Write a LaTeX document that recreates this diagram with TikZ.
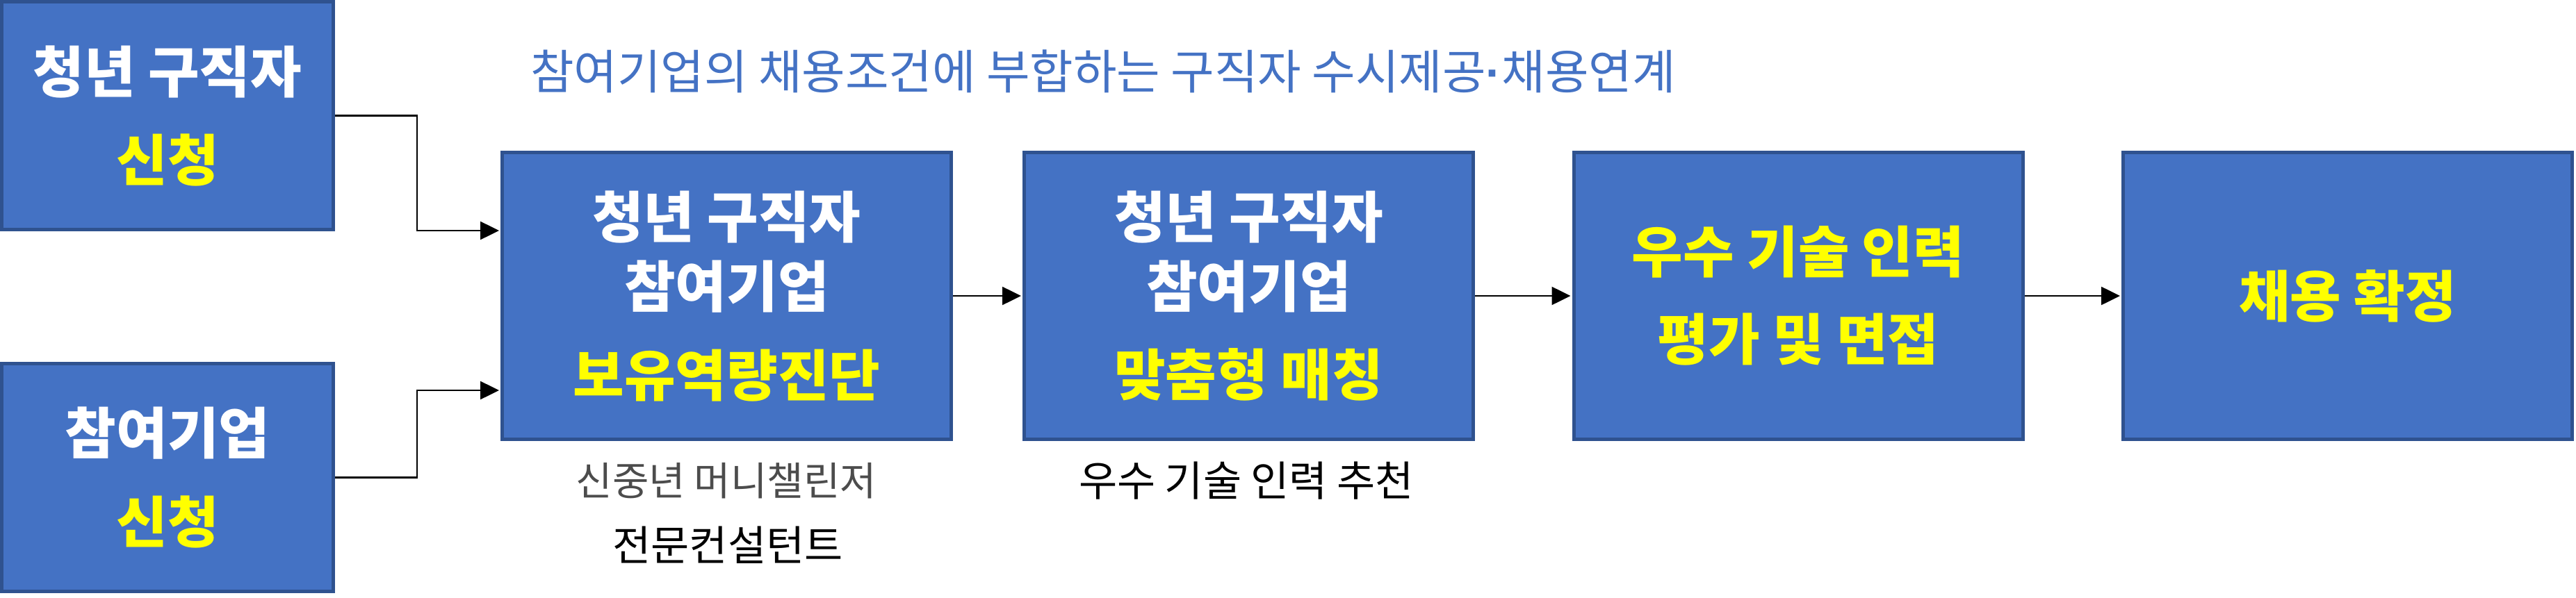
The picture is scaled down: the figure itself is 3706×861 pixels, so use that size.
\documentclass[tikz,border=0pt]{standalone}
\usepackage{fontspec}
\setmainfont{Noto Sans CJK KR}
\newfontfamily\dotfont{Liberation Sans}
\usetikzlibrary{arrows.meta,calc}
\definecolor{boxfill}{HTML}{4472C4}
\definecolor{boxline}{HTML}{2F528F}
\definecolor{ttl}{HTML}{4472C4}
\definecolor{hl}{HTML}{FFFF00}
\begin{document}
\begin{tikzpicture}[x=1pt,y=-1pt,
  flowbox/.style={draw=boxline, fill=boxfill, line width=5pt, inner sep=0pt, align=center, text=white, font=\bfseries\fontsize{80}{100}\selectfont},
  bigbox/.style={flowbox, minimum width=646pt, minimum height=413pt},
  smallbox/.style={flowbox, minimum width=477pt, minimum height=328pt},
  conn/.style={line width=2.5pt, shorten >=2pt, -{Triangle[length=27pt,width=26pt]}},
  note/.style={font=\fontsize{60}{66}\selectfont, inner sep=0pt, text=black}
]
\useasboundingbox (0,0) rectangle (3706,861);

\node[smallbox] (b1) at (241,166.5) {청년 구직자\\[27pt]\textcolor{hl}{신청}};
\node[smallbox] (b2) at (241,687.5) {참여기업\\[28pt]\textcolor{hl}{신청}};
\node[bigbox] (b3) at (1045.5,426) {청년 구직자\\참여기업\\[28pt]\textcolor{hl}{보유역량진단}};
\node[bigbox] (b4) at (1796.5,426) {청년 구직자\\참여기업\\[27pt]\textcolor{hl}{맞춤형 매칭}};
\node[bigbox, text=hl] (b5) at (2587,426) {우수 기술 인력\\[26pt]평가 및 면접};
\node[bigbox, text=hl] (b6) at (3377.5,426) {채용 확정};

\node[font=\fontsize{68}{74}\selectfont, text=ttl, inner sep=0pt] (title) at (1587,103) {참여기업의 채용조건에 부합하는 구직자 수시제공{\dotfont\bfseries ·}채용연계};

\node[note, font=\fontsize{57}{64}\selectfont, text=black!70] (n1) at (1045,692) {신중년 머니챌린저};
\node[note] (n2) at (1047,785) {전문컨설턴트};
\node[note] (n3) at (1793,692) {우수 기술 인력 추천};

\draw[conn] (b1.east) -- ++(118,0) |- ($(b3.west)+(0,-94)$);
\draw[conn] (b2.east) -- ++(118,0) |- ($(b3.west)+(0,136)$);
\draw[conn] (b3.east) -- (b4.west);
\draw[conn] (b4.east) -- (b5.west);
\draw[conn] (b5.east) -- (b6.west);
\end{tikzpicture}
\end{document}
